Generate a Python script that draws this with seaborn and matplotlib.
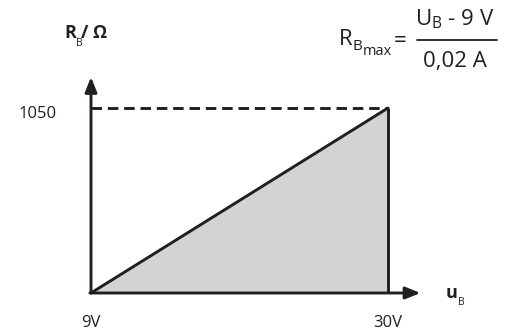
import matplotlib
matplotlib.use("Agg")
import matplotlib.pyplot as plt
import seaborn as sns
from matplotlib.lines import Line2D

# data
u_b = [9, 30]            # supply voltage U_B in V
r_b = [0, 1050]          # max base resistance in Ohm
x_ticks = [9, 30]
x_tick_labels = ["9V", "30V"]
y_ticks = [1050]
y_tick_labels = ["1050"]

sns.set_theme(style="white")
plt.rcParams["font.family"] = ["Open Sans", "DejaVu Sans"]
plt.rcParams["mathtext.default"] = "regular"

W, H = 515, 331
fig = plt.figure(figsize=(W / 100, H / 100), dpi=100)
# plotting area in pixels: origin (91, 293), corner (388, 108)
ax = fig.add_axes([91 / W, (H - 293) / H, 297 / W, 185 / H])
ax.set_xlim(u_b[0], u_b[1])
ax.set_ylim(r_b[0], r_b[1])
ax.axis("off")

dark = "#231f20"
lw = 2.1


def t(x, y, s, size, **kw):
    # place text by pixel position (y measured from the top)
    kw.setdefault("va", "baseline")
    kw.setdefault("ha", "left")
    fig.text(x / W, 1 - y / H, s, fontsize=size, color=dark, **kw)


# shaded region under the line
ax.fill_between(u_b, r_b, [r_b[0]] * len(u_b), color="#d1d3d4", lw=0, clip_on=False)
sns.lineplot(x=u_b, y=r_b, ax=ax, color=dark, lw=lw, clip_on=False)
ax.plot([u_b[1], u_b[1]], r_b, color=dark, lw=lw, clip_on=False, solid_capstyle="butt")
ax.plot(u_b, [r_b[1], r_b[1]], color=dark, lw=lw, ls=(0, (3.6, 2)), clip_on=False)

# axis arrows
arr = dict(arrowstyle="-|>,head_length=0.75,head_width=0.3", color=dark, lw=lw,
           shrinkA=0, shrinkB=0)
ax.annotate("", xy=(u_b[0], 1226), xytext=(u_b[0], r_b[0]), arrowprops=arr,
            annotation_clip=False)
ax.annotate("", xy=(32.3, r_b[0]), xytext=(u_b[0] - 0.08, r_b[0]), arrowprops=arr,
            annotation_clip=False)

# tick labels
for x, lab in zip(x_ticks, x_tick_labels):
    ax.annotate(lab, xy=(x, H - 327), xycoords=("data", "figure pixels"),
                ha="center", va="baseline", fontsize=12, color=dark,
                annotation_clip=False)
for y, lab in zip(y_ticks, y_tick_labels):
    ax.annotate(lab, xy=(38, y), xycoords=("figure pixels", "data"),
                xytext=(0, -4.5), textcoords="offset points",
                ha="center", va="center", fontsize=12, color=dark,
                annotation_clip=False)

# axis titles
t(64, 38, "R", 13, fontweight="bold")
t(76, 46, "B", 7.5)
t(81, 38, "/ Ω", 13, fontweight="bold")
t(446, 298, "u", 13, fontweight="bold")
t(458, 305, "B", 7.5)

# formula
t(339, 45, "R", 16)
t(352.5, 50, "B", 11)
t(362.5, 55, "max", 10.5)
t(394, 41, "=", 16, va="center")
t(455, 25, r"$U_{B}$ - 9 V", 16, ha="center")
t(455, 67, "0,02 A", 16, ha="center")
fig.add_artist(Line2D([417 / W, 497 / W], [1 - 40 / H, 1 - 40 / H], color=dark,
                      lw=1.3, transform=fig.transFigure))

fig.savefig("out.png", dpi=100)
